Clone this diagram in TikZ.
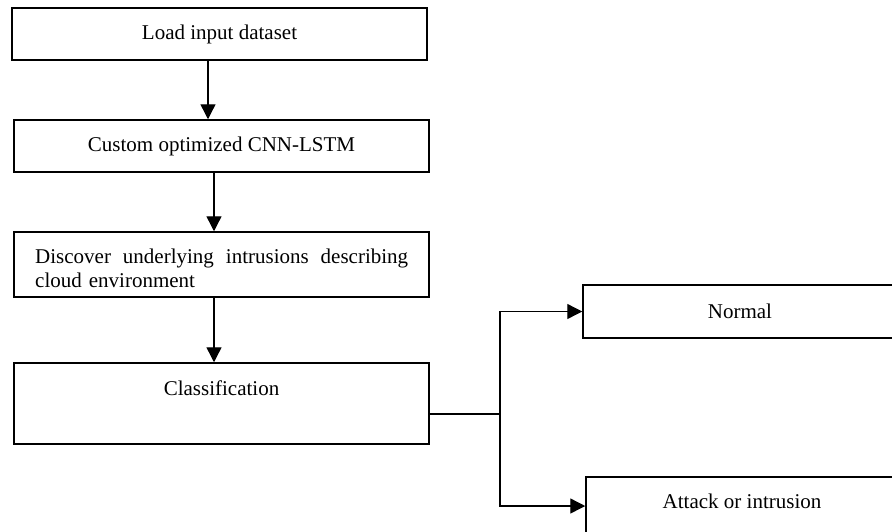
\documentclass[tikz,border=0pt]{standalone}
\usepackage{fontspec}
\setmainfont{Liberation Serif}
\usetikzlibrary{arrows.meta}

\tikzset{
  box/.style={draw, line width=1.5pt, rectangle, inner sep=0pt, minimum width=415pt, minimum height=52pt},
  arr/.style={line width=1.4pt, -{Triangle[length=15pt,width=15pt]}},
}

\begin{document}
\begin{tikzpicture}[x=1pt, y=1pt, font=\fontsize{21}{24}\selectfont]
        \useasboundingbox (0,0) rectangle (892,-531);
        \clip (0,0) rectangle (892,-531);

        \node[box] (load) at (219.5,-34) {Load input dataset};
        \node[box] (cnn) at (221.5,-146) {Custom optimized CNN-LSTM};
        \node[box, minimum height=65pt] (disc) at (221.5,-264.5) {};
        \node[anchor=base west, inner sep=0pt, text width=373pt, align=left] (disctxt) at (35,-263)
            {Discover\hfill underlying\hfill intrusions\hfill describing\\cloud environment};
        \node[box, minimum height=81pt, text height=32pt, text depth=49pt] (cls) at (221.5,-403.5) {Classification};

        \node[box, minimum width=314pt, minimum height=53pt] (normal) at (740,-311.5) {Normal};
        \node[box, minimum width=312pt, minimum height=81pt, text height=31pt, text depth=50pt] (attack) at (742,-517.5) {Attack or intrusion};

        \draw[arr] ([xshift=-11.5pt]load.south) -- ([xshift=-11.5pt]load.south |- cnn.north);
        \draw[arr] ([xshift=-7.5pt]cnn.south) -- ([xshift=-7.5pt]cnn.south |- disc.north);
        \draw[arr] ([xshift=-7.5pt]disc.south) -- ([xshift=-7.5pt]disc.south |- cls.north);

        \coordinate (split) at (500,-414);
        \draw[arr] ([yshift=-10.5pt]cls.east) -- (split) |- (normal.west);
        \draw[arr] (split) |- ([yshift=11.5pt]attack.west);
    \end{tikzpicture}
\end{document}
